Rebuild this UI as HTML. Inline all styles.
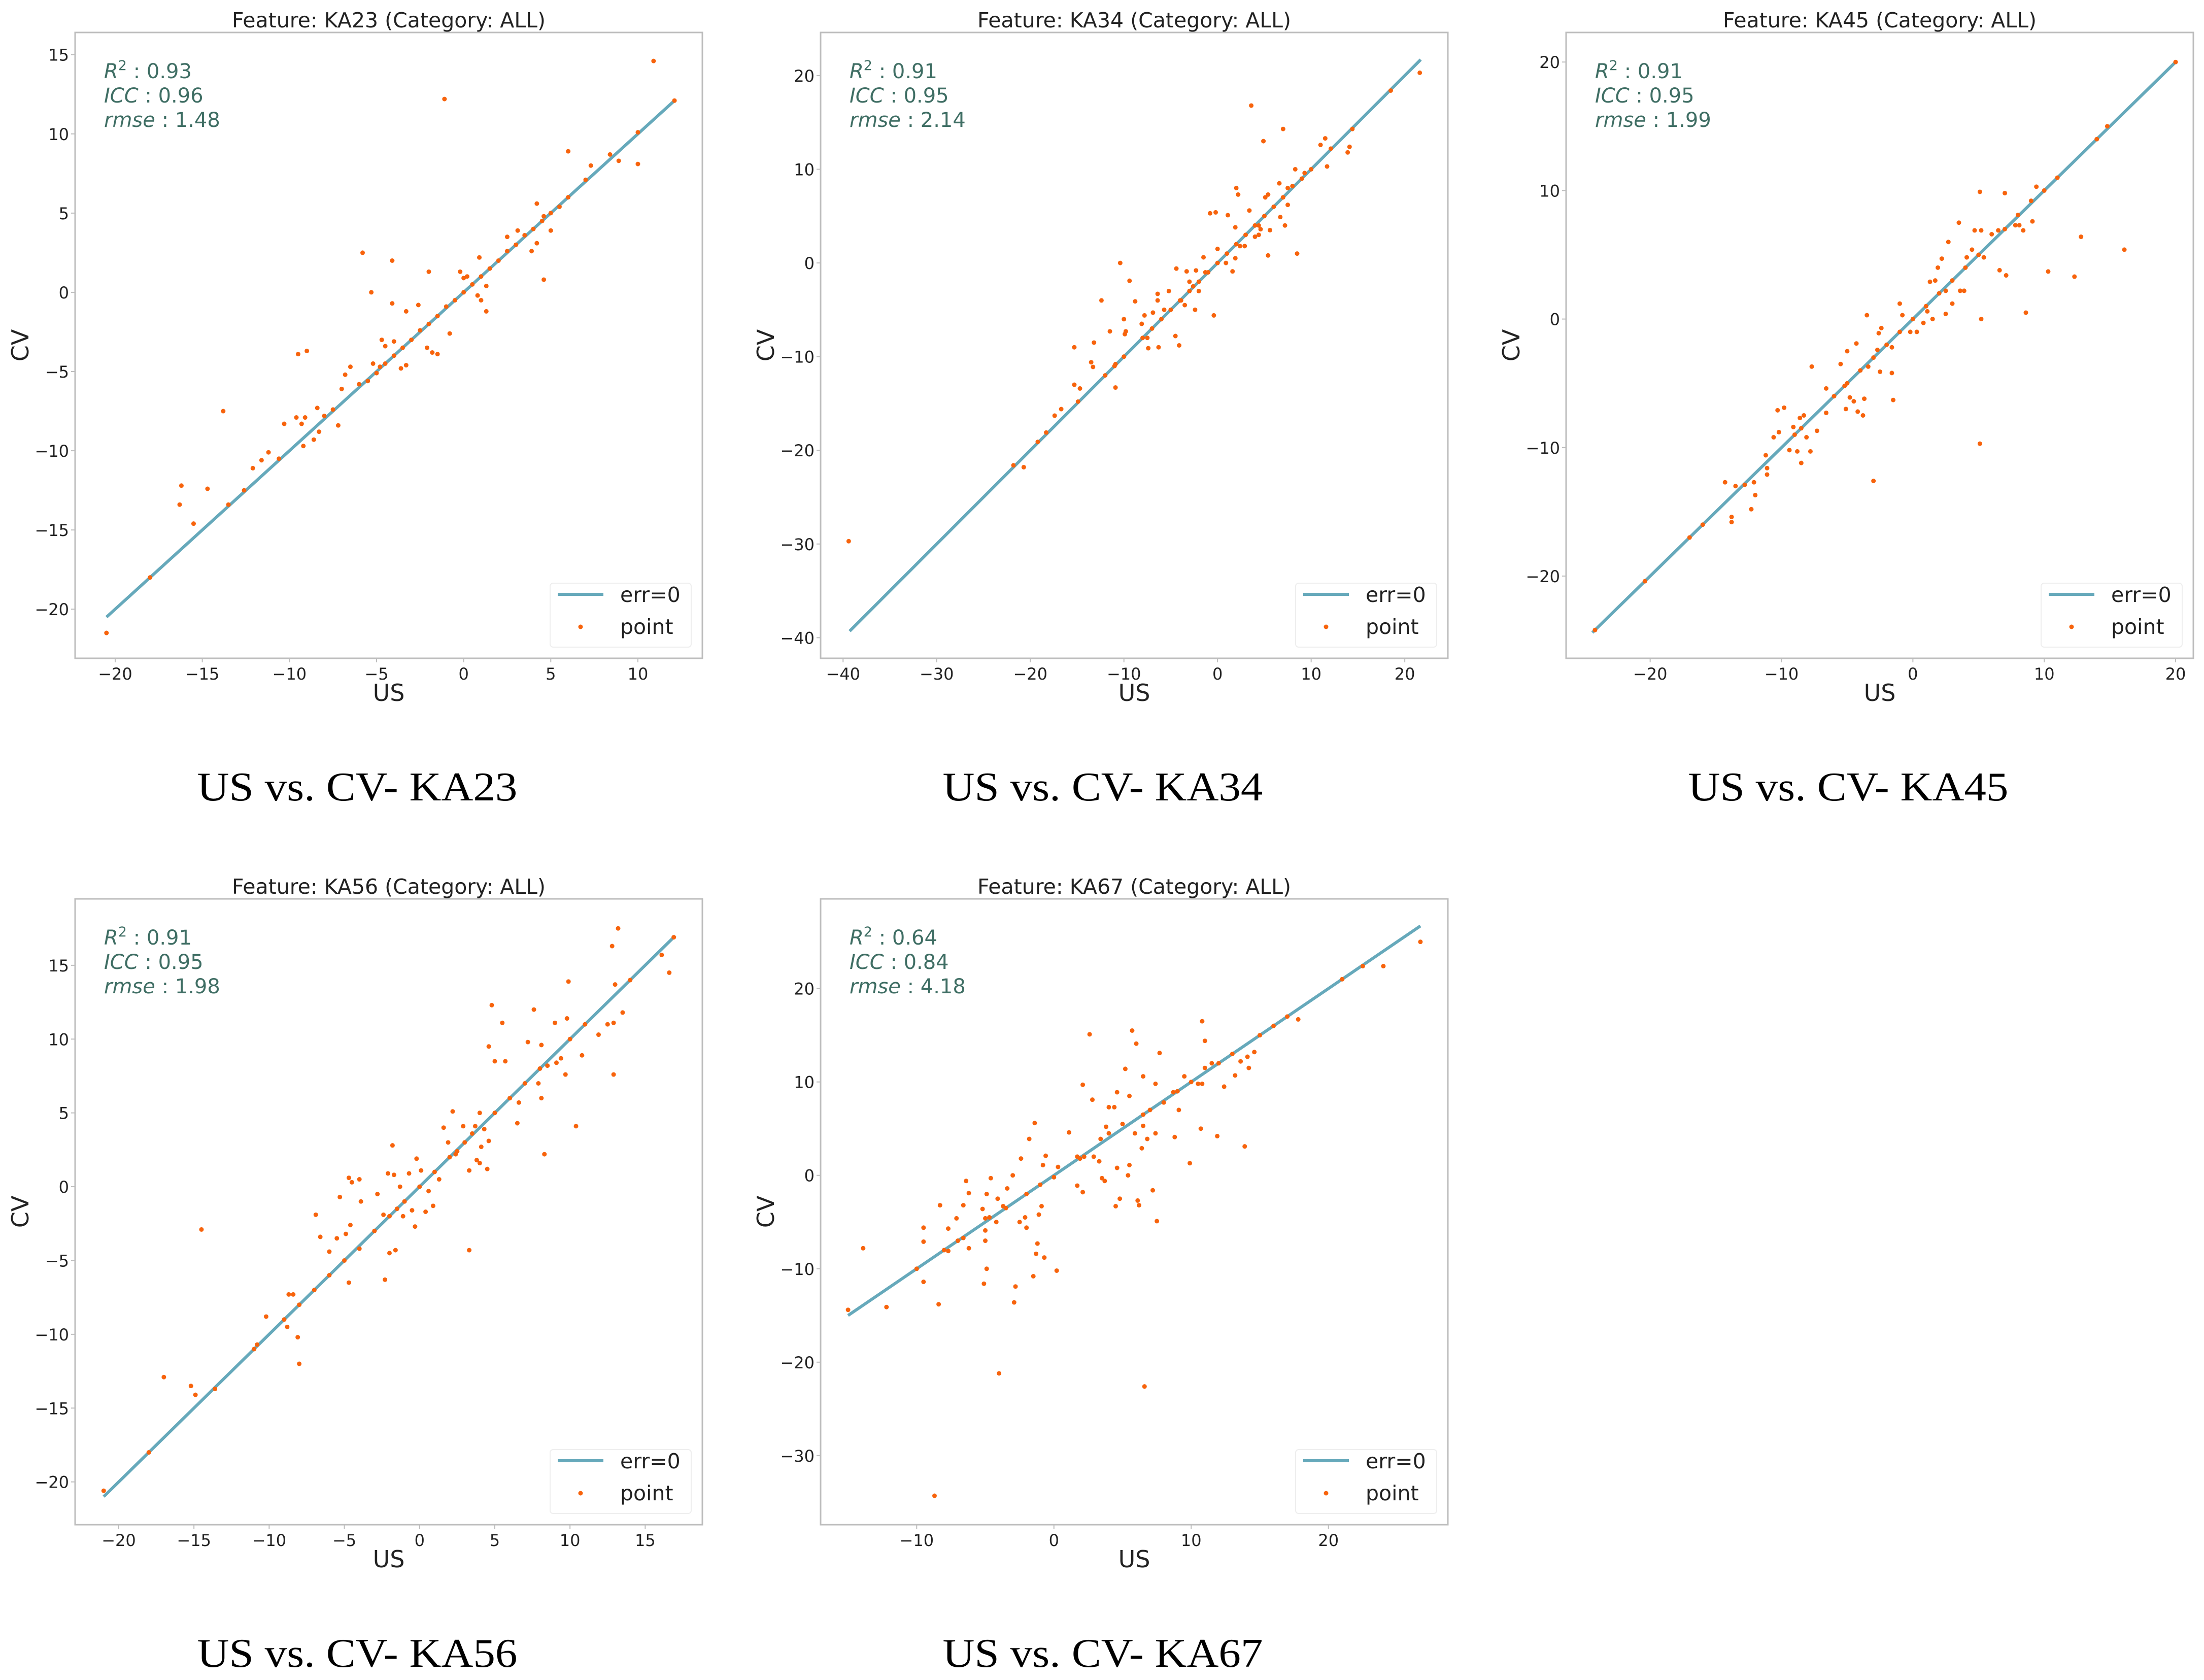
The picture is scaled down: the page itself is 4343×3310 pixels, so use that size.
<!DOCTYPE html>
<html><head><meta charset="utf-8">
<style>
html,body{margin:0;padding:0;background:#fff;}
svg{display:block;}
text{font-family:"DejaVu Sans","Liberation Sans",sans-serif;}
.cap{font-family:"Liberation Serif",serif;}
</style></head>
<body>
<svg id="fig" width="4343" height="3310" viewBox="0 0 4343 3310" xmlns="http://www.w3.org/2000/svg"></svg>
<script>
// ---- data ----
const ka23_x=[10.9,-1.1,-5.8,-4.1,-5.3,-2,-9.5,-9.0,-13.8,-16.2,-16.3,-14.7,-15.5,-20.5,6,7.3,8.9,10,8.4,10,12.1,4.6,4.2,5,3.1,2.5,4.2,3.9,0.9,-0.2,0,0.2,0.8,1.0,1.3,1.3,-0.8,-1.5,-1.8,-2.1,-3.3,-3.6,-4.0,-4.5,-4.7,-5.2,-5.0,-6.5,-6.8,-4.1,-3.3,-2.6,-7,-7.2,-8.3,-8.6,-9.2,-9.3,-9.6,-9.1,-8.4,-10.3,-11.2,-11.6,-12.1,-10.6,-18,-13.5,-12.6,-8,-7.5,-6,-5.5,-4.8,-4.5,-4,-3.5,-3,-2.5,-2,-1.5,-1,-0.5,0,0.5,1,1.5,2,2.5,3,3.5,4,4.5,4.6,5,5.5,6,7];
const ka23_y=[14.6,12.2,2.5,2.0,0,1.3,-3.9,-3.7,-7.5,-12.2,-13.4,-12.4,-14.6,-21.5,8.9,8,8.3,8.1,8.7,10.1,12.1,0.8,5.6,3.9,3.9,3.5,3.1,2.6,2.2,1.3,0.9,1.0,-0.2,-0.5,-1.2,0.4,-2.6,-3.9,-3.8,-3.5,-4.6,-4.8,-3.1,-3.4,-3.0,-4.5,-5.1,-4.7,-5.2,-0.7,-1.2,-0.8,-6.1,-8.4,-8.8,-9.3,-9.7,-8.3,-7.9,-7.9,-7.3,-8.3,-10.1,-10.6,-11.1,-10.5,-18,-13.4,-12.5,-7.8,-7.4,-5.8,-5.6,-4.7,-4.5,-4,-3.5,-3,-2.4,-2,-1.5,-0.9,-0.5,0,0.5,1,1.5,2,2.6,3,3.6,4,4.5,4.8,5,5.4,6,7.1];
const ka34_x=[-39.4,21.6,18.5,-20.7,-21.8,-19.2,-18.3,-17.4,-16.7,-15.3,-15.3,-14.7,-14.9,-13.5,-13.3,-13.2,-12.4,-11.5,-10.9,-10.9,-10.4,-10,-9.9,-9.8,-9.4,-8.8,-8.1,-7.8,-7.5,-7.4,-6.9,-6.4,-6.4,-6.3,-5.7,-5.2,-4.5,-4.4,-4.1,-3.9,-3.5,-3.3,-3,-2.6,-2.4,-2.3,-2,-1.5,-1.3,-0.8,-0.2,-0.4,0,0.9,1.1,1.6,1.9,2,2.2,1.9,2.4,2.9,3.4,3.6,4,4.4,4.4,4.6,4.9,5.1,5.4,5.4,5.6,6.6,6.7,7,7.2,7.5,7.5,8.3,8.5,9.3,11,11.5,11.7,12.1,13.9,14.1,14.4,-11,-12,-10,-8,-7,-6,-5,-4,-3,-2,-1,0,1,2,3,4,5,6,7,8,9,10];
const ka34_y=[-29.7,20.3,18.4,-21.8,-21.6,-19.1,-18.1,-16.3,-15.6,-9,-13,-13.4,-14.8,-10.6,-11.1,-8.5,-4,-7.3,-13.3,-10.8,0,-6,-7.6,-7.3,-1.9,-4.1,-6.5,-5.6,-8,-9.1,-5.3,-3.3,-4,-9,-5,-3,-7.8,-0.6,-8.8,-4,-4.5,-0.9,-2,-2.5,-5,-0.8,-3,0.6,-1,5.3,5.4,-5.6,1.5,0,5.1,-0.9,0.5,8,7.3,3.8,1.8,1.8,5.6,16.8,2.8,4,3,3.6,13,7,0.8,7.3,3.5,8.5,4.9,14.3,4,6.2,8,10,1,9.6,12.6,13.3,10.3,12.2,11.8,12.4,14.3,-11,-12,-10,-8,-7,-6,-5,-4,-3,-2,-1,0,1,2,3,4,5,6,7,8.2,9,10];
const ka45_x=[-24.2,-20.4,20,14.8,14,-14.3,-13.8,-13.8,-13.5,-12.8,-12.3,-12,-12.1,-11.2,-11.1,-11.1,-10.6,-10.3,-10.2,-9.8,-9.4,-9.1,-8.8,-8.5,-8.6,-8.3,-8.1,-7.8,-7.7,-7.3,-6.6,-6.6,-5.5,-5.2,-5.1,-5,-4.8,-4.5,-4.3,-4.2,-3.8,-3.7,-3.5,-3.4,-3,-2.7,-2.6,-2.5,-2.4,-1.6,-1.6,-1.5,-1,-0.8,-0.2,0.3,0.8,1.1,1.3,1.5,1.7,1.9,2.2,2.5,2.5,2.7,3,3.5,3.6,3.9,4.1,4.5,4.7,5.1,5.2,5.2,5.1,5.4,6.5,6.6,7,7.1,7.8,8.1,8.4,8.6,9.1,9.4,10.3,12.3,12.8,16.1,-16,-17,-9,-8.5,-6,-5,-4,-3,-2,-1,0,1,2,3,4,5,6,7,8,9,10,11];
const ka45_y=[-24.2,-20.4,20,15,14,-12.7,-15.4,-15.8,-13,-12.9,-14.8,-13.7,-12.7,-10.6,-11.6,-12.1,-9.2,-7.1,-8.8,-6.9,-10.2,-8.4,-10.3,-11.2,-7.7,-7.5,-9.2,-10.3,-3.7,-8.7,-5.4,-7.3,-3.5,-5.2,-7,-2.5,-6.1,-6.4,-1.9,-7.2,-7.5,-6.2,0.3,-3.7,-12.6,-2.4,-1.1,-4.1,-0.7,-2.2,-4.2,-6.3,1.2,0.3,-1,-1,-0.3,0.6,2.9,0,3,4,4.7,2.2,0.4,6,1.2,7.5,2.2,2.2,4.8,5.4,6.9,9.9,6.9,0,-9.7,4.8,6.9,3.8,9.8,3.4,7.3,7.3,6.9,0.5,7.6,10.3,3.7,3.3,6.4,5.4,-16,-17,-9,-8.5,-6,-5,-4,-3,-2,-1,0,1,2,3,4,5,6.6,7,8.1,9.2,10,11];
const ka56_x=[-21,-17,-15.2,-14.9,-14.5,-13.6,-10.8,-10.2,-8.8,-8.7,-8.4,-8.1,-8,-8,-6.9,-6.6,-6,-5.5,-5.3,-4.9,-4.7,-4.6,-4.7,-4.5,-4,-3.9,-2.8,-2.4,-2.3,-2.1,-2,-1.8,-1.7,-1.6,-1.3,-1.1,-0.7,-0.5,-0.2,-0.3,0.1,0.4,0.6,0.9,1.3,1.6,1.9,2.2,2.4,2.9,3.3,3.3,3.5,3.7,3.8,4,4,4.1,4.3,4.5,4.6,4.6,4.8,5,5.5,5.7,6.5,6.6,7.2,7.6,7.9,8.1,8.1,8.3,8.5,9,9.1,9.4,9.7,9.8,9.9,10.4,10.8,11.9,12.5,12.9,12.9,12.8,13,13.2,13.5,16.1,16.6,16.9,-18,-11,-9,-7,-6,-5,-4,-3,-2,-1.5,-1,0,1,2,2.5,3,5,6,7,8,10,11,14];
const ka56_y=[-20.6,-12.9,-13.5,-14.1,-2.9,-13.7,-10.7,-8.8,-9.5,-7.3,-7.3,-10.2,-12,-8,-1.9,-3.4,-4.4,-3.5,-0.7,-3.2,0.6,-2.6,-6.5,0.3,0.5,-1,-0.5,-1.9,-6.3,0.9,-4.5,2.8,0.8,-4.3,0,-2,0.9,-1.6,1.9,-2.7,1.1,-1.7,-0.3,-1.3,0.5,4,3,5.1,2.2,4.1,1.1,-4.3,3.6,4.1,1.8,1.6,5,2.7,3.9,1.2,3.1,9.5,12.3,8.5,11.1,8.5,4.3,5.7,9.8,12,7,6,9.6,2.2,8.2,11.1,8.4,8.7,7.6,11.4,13.9,4.1,8.9,10.3,11,11.1,7.6,16.3,13.7,17.5,11.8,15.7,14.5,16.9,-18,-11,-9,-7,-6,-5,-4.2,-3,-2,-1.5,-1,0,1,2,2.4,3,5,6,7,8,10,11,14];
const ka67_x=[-15,-13.9,-12.2,-9.5,-9.5,-9.5,-8.7,-8.3,-8.4,-7.7,-7.7,-7.1,-6.6,-6.4,-6.2,-6.6,-6.2,-5.2,-5,-5,-5.1,-4.9,-4.9,-4.6,-4.7,-4.2,-4,-4.1,-3.7,-3.4,-3,-2.8,-2.9,-2.5,-2.4,-2.1,-2,-1.8,-1.4,-1.5,-1.2,-1.3,-1.1,-0.9,-0.7,-0.8,-0.6,0.2,0.3,1.1,1.7,2.1,2.1,2.6,2.8,2.9,3.3,3.5,3.7,3.4,3.8,4,4.4,4.5,4.6,4.8,4.6,5.2,5.4,5.5,5.5,5.7,6,6.1,6.2,5.9,6.4,6.5,6.5,6.6,6.8,7.2,7.4,7.5,7.7,7.4,8.8,8.7,9.1,9.5,9.9,10.5,10.7,10.8,11,10.8,11.5,11.9,12.4,13.2,13.6,13.9,14.1,14.2,14.6,17.8,22.5,24,26.7,-10,-8,-7,-5,-3.5,-2,-1,0,1.7,1.9,2.2,4,5,6.5,7,8,9,10,11,12,13,15,16,17,21];
const ka67_y=[-14.4,-7.8,-14.1,-5.6,-7.1,-11.4,-34.3,-3.2,-13.8,-5.7,-8.1,-4.6,-3.2,-0.6,-1.9,-6.7,-7.8,-3.6,-5.9,-7,-11.6,-10,-2,-0.3,-4.5,-5,-21.2,-2.5,-3.3,-1.4,0,-11.9,-13.6,-5,1.8,-4.5,-5.6,3.9,5.6,-10.8,-7.3,-8.4,-4.2,-3.3,-8.8,1.1,2.1,-10.2,0.9,4.6,-1.1,-1.8,9.7,15.1,8.1,2,1.5,-0.3,-0.6,3.9,5.2,7.3,7.3,-3.3,8.9,-2.5,0.8,11.4,0,1.1,8.5,15.5,14.1,-2.7,-3.2,4.5,2.9,5.3,10.6,-22.6,3.9,-1.6,9.8,-4.9,13.1,4.5,4.1,8.9,7,10.6,1.3,9.8,5,16.5,14.4,9.8,12,4.2,9.5,10.7,12.2,3.1,12.7,11.5,13.2,16.7,22.4,22.4,25,-10,-8,-7,-4.6,-3.5,-2,-1,-0.2,2,1.8,2,4.5,5.5,6.5,7,7.8,9,10,11.5,12,13,15,16,17,21];

const seriesX=[ka23_x,ka34_x,ka45_x,ka56_x,ka67_x];
const seriesY=[ka23_y,ka34_y,ka45_y,ka56_y,ka67_y];
const features=["KA23","KA34","KA45","KA56","KA67"];
const r2Values=["0.93","0.91","0.91","0.91","0.64"];
const iccValues=["0.96","0.95","0.95","0.95","0.84"];
const rmseValues=["1.48","2.14","1.99","1.98","4.18"];
const xTicks=[[-20,-15,-10,-5,0,5,10],[-40,-30,-20,-10,0,10,20],[-20,-10,0,10,20],[-20,-15,-10,-5,0,5,10,15],[-10,0,10,20]];
const yTicks=[[-20,-15,-10,-5,0,5,10,15],[-40,-30,-20,-10,0,10,20],[-20,-10,0,10,20],[-20,-15,-10,-5,0,5,10,15],[-30,-20,-10,0,10,20]];
const lineMin=[-20.5,-39.3,-24.4,-21,-15];
const lineMax=[12.1,21.7,20,17,26.7];
const xDom=[[-22.3,13.7],[-42.4,24.6],[-26.4,21.35],[-22.9,18.8],[-17.0,28.7]];
const yDom=[[-23.1,16.4],[-42.2,24.6],[-26.4,22.3],[-22.9,19.5],[-37.4,29.6]];

// ---- layout ----
const boxes=[[148,64],[1617,64],[3086,64],[148,1771],[1617,1771]];
const W=1236,H=1233;
const NS="http://www.w3.org/2000/svg";
const svg=document.getElementById('fig');
function mk(tag,attrs,parent){const e=document.createElementNS(NS,tag);for(const k in attrs)e.setAttribute(k,attrs[k]);(parent||svg).appendChild(e);return e;}
function fmt(v){return v<0?"\u2212"+Math.abs(v):String(v);}

for(let p=0;p<5;p++){
  const [L,T]=boxes[p];
  const g=mk('g',{});
  
  
  const sx=v=>L+(v-xDom[p][0])/(xDom[p][1]-xDom[p][0])*W;
  const sy=v=>T+H-(v-yDom[p][0])/(yDom[p][1]-yDom[p][0])*H;
  const frame=mk('rect',{x:L,y:T,width:W,height:H,fill:'#fff',stroke:'#bdbdbd','stroke-width':3},g);
  
  
  const title=mk('text',{x:L+W/2,y:T-10,'font-size':41,'text-anchor':'middle',fill:'#222'},g);
  title.textContent='Feature: '+features[p]+' (Category: ALL)';
  
  
  xTicks[p].forEach(v=>{
    const x=sx(v);
    mk('line',{x1:x,y1:T+H,x2:x,y2:T+H+8,stroke:'#bdbdbd','stroke-width':2},g);
    const t=mk('text',{x:x,y:T+H+42,'font-size':32,'text-anchor':'middle',fill:'#222'},g);
    t.textContent=fmt(v);
    
    
  });
  yTicks[p].forEach(v=>{
    const y=sy(v);
    mk('line',{x1:L-8,y1:y,x2:L,y2:y,stroke:'#bdbdbd','stroke-width':2},g);
    const t=mk('text',{x:L-12,y:y+12,'font-size':32,'text-anchor':'end',fill:'#222'},g);
    t.textContent=fmt(v);
    
    
  });
  const xl=mk('text',{x:L+W/2,y:T+H+84,'font-size':46,'text-anchor':'middle',fill:'#222'},g);
  xl.textContent='US';
  
  
  const yl=mk('text',{x:L-92,y:T+H/2,'font-size':46,'text-anchor':'middle',fill:'#222',transform:'rotate(-90 '+(L-92)+' '+(T+H/2)+')'},g);
  yl.textContent='CV';
  
  
  const ln=mk('line',{x1:sx(lineMin[p]),y1:sy(lineMin[p]),x2:sx(lineMax[p]),y2:sy(lineMax[p]),stroke:'#66a9bb','stroke-width':6},g);
  
  
  const xs=seriesX[p],ys=seriesY[p];
  for(let i=0;i<xs.length;i++){
    const c=mk('circle',{cx:sx(xs[i]),cy:sy(ys[i]),r:4.5,fill:'#f7630c'},g);
    
    
  }
  const col='#3f6e64';
  const s1=mk('text',{x:L+57,y:T+90,'font-size':40,fill:col},g);
  s1.innerHTML='<tspan font-style="italic">R</tspan><tspan font-size="27" dy="-16">2</tspan><tspan dy="16"> : '+r2Values[p]+'</tspan>';
  
  
  const s2=mk('text',{x:L+57,y:T+138,'font-size':40,fill:col},g);
  s2.innerHTML='<tspan font-style="italic">ICC</tspan> : '+iccValues[p];
  
  
  const s3=mk('text',{x:L+57,y:T+186,'font-size':40,fill:col},g);
  s3.innerHTML='<tspan font-style="italic">rmse</tspan> : '+rmseValues[p];
  
  
  const R=L+W,B=T+H;
  const lg=mk('g',{},g);
  
  
  mk('rect',{x:R-300,y:B-148,width:278,height:126,rx:6,fill:'#fff',stroke:'#eeeeee','stroke-width':2},lg);
  mk('line',{x1:R-285,y1:B-126,x2:R-195,y2:B-126,stroke:'#66a9bb','stroke-width':6},lg);
  const lt1=mk('text',{x:R-162,y:B-111,'font-size':41,fill:'#222'},lg);
  lt1.textContent='err=0';
  
  
  mk('circle',{cx:R-240,cy:B-62,r:4.5,fill:'#f7630c'},lg);
  const lt2=mk('text',{x:R-162,y:B-48,'font-size':41,fill:'#222'},lg);
  lt2.textContent='point';
  
  
  const cx=L+556, cy=(p<3)?1577:3284;
  const cap=mk('text',{x:cx,y:cy,'font-size':80,'text-anchor':'middle',fill:'#000','class':'cap',textLength:631,lengthAdjust:'spacingAndGlyphs'});
  cap.textContent='US vs. CV- '+features[p];
  
  
}
</script>
</body></html>
